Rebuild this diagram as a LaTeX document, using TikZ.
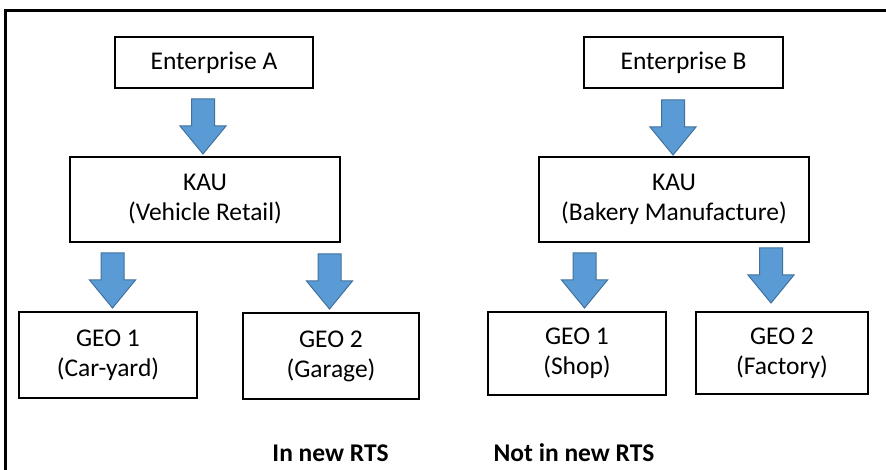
\documentclass[tikz,border=0pt]{standalone}
\usepackage{fontspec}
\setmainfont{Carlito}
\definecolor{arrfill}{HTML}{5B9BD5}
\definecolor{arrdraw}{HTML}{41719C}
\begin{document}
\begin{tikzpicture}[x=1pt,y=-1pt,
  unitbox/.style={draw=black,line width=1.3pt,inner sep=0pt,align=center,
    font=\fontsize{25.5}{30}\selectfont},
  lbl/.style={anchor=base,inner sep=0pt,font=\fontsize{25.5}{30}\selectfont\bfseries},
  downarrow/.pic={\draw[fill=arrfill,draw=arrdraw,line width=1pt,line join=miter]
     (-11.5,0) -- (11.5,0) -- (11.5,27) -- (23,27) -- (0,55) -- (-23,27) -- (-11.5,27) -- cycle;}]
\useasboundingbox (0,0) rectangle (886,470);
\draw[line width=2.5pt] (5.5,475) -- (5.5,10.5) -- (890,10.5);

\node[unitbox,minimum width=198pt,minimum height=51pt] (ea) at (214,62.5) {Enterprise A};
\node[unitbox,minimum width=270pt,minimum height=85pt] (ka) at (205,199.5) {KAU\\(Vehicle Retail)};
\node[unitbox,minimum width=178pt,minimum height=86pt] (ga1) at (108,355) {GEO 1\\(Car-yard)};
\node[unitbox,minimum width=176pt,minimum height=86pt] (ga2) at (331,356) {GEO 2\\(Garage)};

\node[unitbox,minimum width=199pt,minimum height=51pt] (eb) at (683.5,62.5) {Enterprise B};
\node[unitbox,minimum width=270pt,minimum height=85pt] (kb) at (674,199.5) {KAU\\(Bakery Manufacture)};
\node[unitbox,minimum width=178pt,minimum height=83pt] (gb1) at (577,353.5) {GEO 1\\(Shop)};
\node[unitbox,minimum width=172pt,minimum height=82pt] (gb2) at (782,353) {GEO 2\\(Factory)};

\pic (arA1) at (203,99) {downarrow};
\pic (arA2) at (112.5,253) {downarrow};
\pic (arA3) at (329.5,254) {downarrow};
\pic (arB1) at (673,100) {downarrow};
\pic (arB2) at (584.5,253) {downarrow};
\pic (arB3) at (771,248) {downarrow};

\node[lbl] (inrts) at (330.5,461) {In new RTS};
\node[lbl] (notrts) at (574,461) {Not in new RTS};
\end{tikzpicture}
\end{document}
